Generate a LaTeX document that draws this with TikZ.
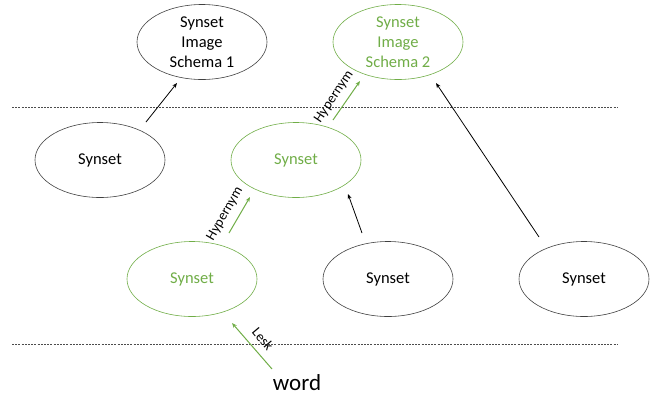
\documentclass[tikz,border=0pt]{standalone}
\usepackage{fontspec}
\setmainfont{Carlito}
\usetikzlibrary{shapes.geometric,arrows.meta}
\definecolor{ogreen}{HTML}{70AD47}
\begin{document}
\begin{tikzpicture}[x=1pt,y=-1pt,
  ell/.style={draw=black!75, ellipse, minimum width=130pt, minimum height=75pt, inner sep=0pt, font=\fontsize{16.5}{20}\selectfont, align=center, line width=0.6pt},
  gell/.style={ell, draw=ogreen, text=ogreen},
  arr/.style={-{Stealth[length=5pt,width=4pt]}, line width=0.8pt},
  garr/.style={arr, draw=ogreen, line width=1pt},
  lbl/.style={font=\fontsize{14}{16}\selectfont, inner sep=0pt},
  sep/.style={draw=black!70, dash pattern=on 2pt off 1.2pt, line width=0.5pt}
]
\useasboundingbox (0,0) rectangle (652,400);
\node[ell]  (s1) at (202,42) {Synset\\Image\\Schema 1};
\node[gell] (s2) at (398,42) {Synset\\Image\\Schema 2};
\node[ell]  (l)  at (100,160) {Synset};
\node[gell] (m)  at (296,160) {Synset};
\node[gell] (bg) at (192,279) {Synset};
\node[ell]  (bm) at (388,279) {Synset};
\node[ell]  (r)  at (584,279) {Synset};
\node[font=\fontsize{23}{26}\selectfont] (w) at (297,383) {word};

\coordinate (d1a) at (12,107); \coordinate (d1b) at (617,107);
\coordinate (d2a) at (12,344); \coordinate (d2b) at (617,344);
\draw[sep] (d1a) -- (d1b);
\draw[sep] (d2a) -- (d2b);

\coordinate (a1s) at (146,122); \coordinate (a1e) at (177,83);
\draw[arr] (a1s) -- (a1e);
\coordinate (a2s) at (333,120); \coordinate (a2e) at (360,81);
\draw[garr] (a2s) -- (a2e);
\node[lbl, rotate=56] (h1) at (334,97) {Hypernym};
\coordinate (a3s) at (539,237); \coordinate (a3e) at (436,83);
\draw[arr] (a3s) -- (a3e);
\coordinate (a4s) at (362,233); \coordinate (a4e) at (348,194);
\draw[arr] (a4s) -- (a4e);
\coordinate (a5s) at (229,233); \coordinate (a5e) at (250,197);
\draw[garr] (a5s) -- (a5e);
\node[lbl, rotate=60] (h2) at (225,214) {Hypernym};
\coordinate (a6s) at (272,369); \coordinate (a6e) at (232,323);
\draw[garr] (a6s) -- (a6e);
\node[lbl, rotate=-50] (lk) at (263,339) {Lesk};
\end{tikzpicture}
\end{document}
